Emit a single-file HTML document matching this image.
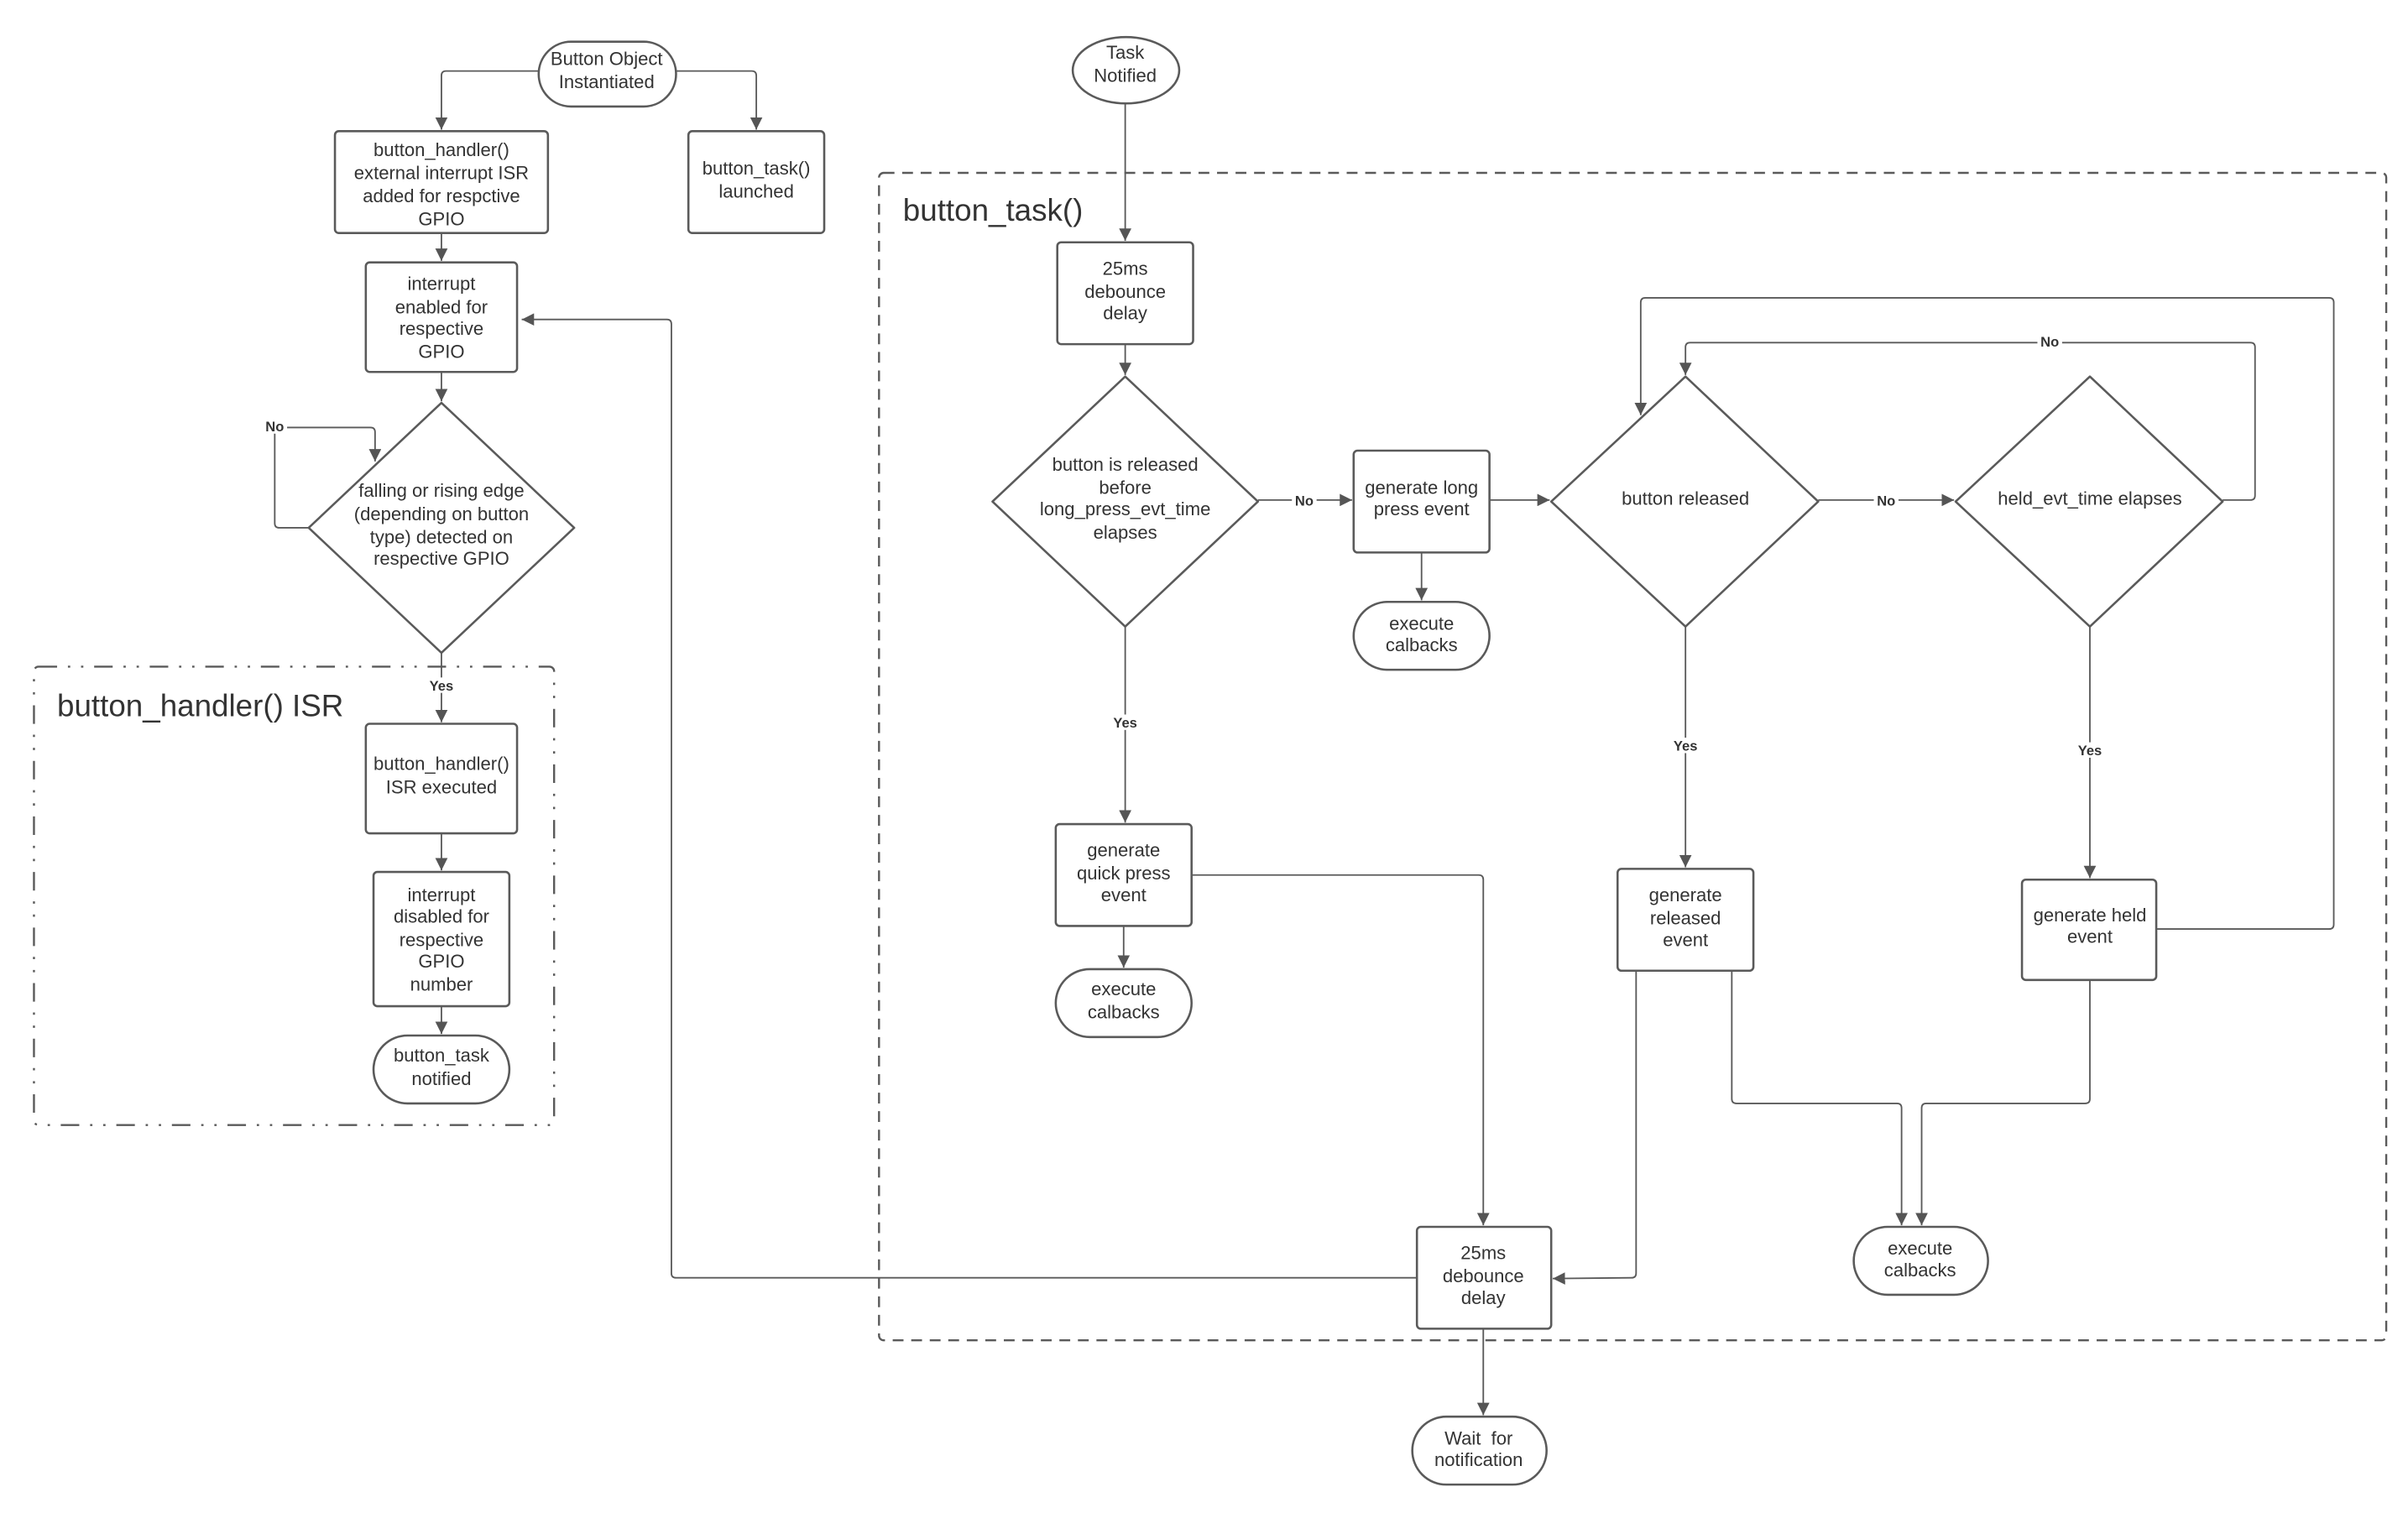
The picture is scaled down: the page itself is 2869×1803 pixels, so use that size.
<!DOCTYPE html>
<html><head><meta charset="utf-8"><style>
html,body{margin:0;padding:0;background:#fff;}
svg{display:block;}
text{font-family:"Liberation Sans",sans-serif;fill:#333;}
</style></head><body>
<svg width="2869" height="1803" viewBox="0 0 1560.1 980.4" xmlns="http://www.w3.org/2000/svg">
<defs>
<marker id="a" viewBox="0 0 10 10" refX="10" refY="5" markerWidth="8" markerHeight="8" markerUnits="userSpaceOnUse" orient="auto">
<path d="M0,0 L10,5 L0,10 z" fill="#555"/></marker>
</defs>
<rect width="1560.1" height="980.4" fill="#fff"/>
<g fill="none" stroke="#5a5a5a" stroke-width="1">
<!-- containers -->
<rect x="569.5" y="112" width="976.5" height="756.5" rx="3" stroke-dasharray="7 5" stroke-width="1.3"/>
<rect x="22" y="432" width="337" height="297" rx="3" stroke-dasharray="12 7 1.5 7 1.5 7" stroke-width="1.3"/>
<!-- connectors -->
<path d="M349,46 H289 Q286,46 286,49 V84" marker-end="url(#a)"/>
<path d="M438,46 H487 Q490,46 490,49 V84" marker-end="url(#a)"/>
<path d="M286,151 V169" marker-end="url(#a)"/>
<path d="M286,241 V260" marker-end="url(#a)"/>
<path d="M200,342 H181 Q178,342 178,339 V280 Q178,277 181,277 H240 Q243,277 243,280 V299" marker-end="url(#a)"/>
<path d="M286,423 V468" marker-end="url(#a)"/>
<path d="M286,540 V564" marker-end="url(#a)"/>
<path d="M286,652 V670" marker-end="url(#a)"/>
<path d="M729,67 V156" marker-end="url(#a)"/>
<path d="M729,223 V243" marker-end="url(#a)"/>
<path d="M815,324 H876" marker-end="url(#a)"/>
<path d="M921,358 V389" marker-end="url(#a)"/>
<path d="M965,324 H1004" marker-end="url(#a)"/>
<path d="M1178,324 H1266" marker-end="url(#a)"/>
<path d="M1440,324 H1458 Q1461,324 1461,321 V225 Q1461,222 1458,222 H1095 Q1092,222 1092,225 V243" marker-end="url(#a)"/>
<path d="M1397,602 H1509 Q1512,602 1512,599 V196 Q1512,193 1509,193 H1066 Q1063,193 1063,196 V269" marker-end="url(#a)"/>
<path d="M729,406 V533" marker-end="url(#a)"/>
<path d="M728,600 V627" marker-end="url(#a)"/>
<path d="M772,567 H958 Q961,567 961,570 V794" marker-end="url(#a)"/>
<path d="M1092,406 V562" marker-end="url(#a)"/>
<path d="M1354,406 V569" marker-end="url(#a)"/>
<path d="M1060,629 V825 Q1060,828 1057,828 L1006,828.5" marker-end="url(#a)"/>
<path d="M1122,629 V712 Q1122,715 1125,715 H1229 Q1232,715 1232,718 V794" marker-end="url(#a)"/>
<path d="M1354,635 V712 Q1354,715 1351,715 H1248 Q1245,715 1245,718 V794" marker-end="url(#a)"/>
<path d="M918,828 H438 Q435,828 435,825 V210 Q435,207 432,207 H338" marker-end="url(#a)"/>
<path d="M961,861 V917" marker-end="url(#a)"/>
</g>
<g fill="#fff" stroke="#5a5a5a" stroke-width="1.4">
<rect x="349" y="27" width="89" height="42" rx="21"/>
<rect x="217" y="85" width="138" height="66" rx="2.5"/>
<rect x="446" y="85" width="88" height="66" rx="2.5"/>
<rect x="237" y="170" width="98" height="71" rx="2.5"/>
<path d="M286,261 L372,342 L286,423 L200,342 Z" stroke-linejoin="round"/>
<rect x="237" y="469" width="98" height="71" rx="2.5"/>
<rect x="242" y="565" width="88" height="87" rx="2.5"/>
<rect x="242" y="671" width="88" height="44" rx="22"/>
<ellipse cx="729.5" cy="45.5" rx="34.5" ry="21.5"/>
<rect x="685" y="157" width="88" height="66" rx="2.5"/>
<path d="M729,244 L815,325 L729,406 L643,325 Z" stroke-linejoin="round"/>
<rect x="877" y="292" width="88" height="66" rx="2.5"/>
<rect x="877" y="390" width="88" height="44" rx="22"/>
<path d="M1092,244 L1178,325 L1092,406 L1005,325 Z" stroke-linejoin="round"/>
<path d="M1354,244 L1440,325 L1354,406 L1267,325 Z" stroke-linejoin="round"/>
<rect x="684" y="534" width="88" height="66" rx="2.5"/>
<rect x="684" y="628" width="88" height="44" rx="22"/>
<rect x="1048" y="563" width="88" height="66" rx="2.5"/>
<rect x="1310" y="570" width="87" height="65" rx="2.5"/>
<rect x="1201" y="795" width="87" height="44" rx="22"/>
<rect x="918" y="795" width="87" height="66" rx="2.5"/>
<rect x="915" y="918" width="87" height="44" rx="22"/>
</g>
<g font-size="12" text-anchor="middle">
<text x="393" y="42">Button Object</text><text x="393" y="57">Instantiated</text>
<text x="286" y="101">button_handler()</text><text x="286" y="116">external interrupt ISR</text><text x="286" y="131">added for respctive</text><text x="286" y="146">GPIO</text>
<text x="490" y="113">button_task()</text><text x="490" y="128">launched</text>
<text x="286" y="188">interrupt</text><text x="286" y="203">enabled for</text><text x="286" y="217">respective</text><text x="286" y="232">GPIO</text>
<text x="286" y="322">falling or rising edge</text><text x="286" y="337">(depending on button</text><text x="286" y="352">type) detected on</text><text x="286" y="366">respective GPIO</text>
<text x="286" y="499">button_handler()</text><text x="286" y="514">ISR executed</text>
<text x="286" y="584">interrupt</text><text x="286" y="598">disabled for</text><text x="286" y="613">respective</text><text x="286" y="627">GPIO</text><text x="286" y="642">number</text>
<text x="286" y="688">button_task</text><text x="286" y="703">notified</text>
<text x="729" y="38">Task</text><text x="729" y="53">Notified</text>
<text x="729" y="178">25ms</text><text x="729" y="193">debounce</text><text x="729" y="207">delay</text>
<text x="729" y="305">button is released</text><text x="729" y="320">before</text><text x="729" y="334">long_press_evt_time</text><text x="729" y="349">elapses</text>
<text x="921" y="320">generate long</text><text x="921" y="334">press event</text>
<text x="921" y="408">execute</text><text x="921" y="422">calbacks</text>
<text x="1092" y="327">button released</text>
<text x="1354" y="327">held_evt_time elapses</text>
<text x="728" y="555">generate</text><text x="728" y="570">quick press</text><text x="728" y="584">event</text>
<text x="728" y="645">execute</text><text x="728" y="660">calbacks</text>
<text x="1092" y="584">generate</text><text x="1092" y="599">released</text><text x="1092" y="613">event</text>
<text x="1354" y="597">generate held</text><text x="1354" y="611">event</text>
<text x="1244" y="813">execute</text><text x="1244" y="827">calbacks</text>
<text x="961" y="816">25ms</text><text x="961" y="831">debounce</text><text x="961" y="845">delay</text>
<text x="958" y="936" xml:space="preserve">Wait  for</text><text x="958" y="950">notification</text>
</g>
<g font-size="9" font-weight="bold" text-anchor="middle">
<rect x="170" y="271" width="16" height="10" fill="#fff"/><text x="178" y="279.5">No</text>
<rect x="276" y="439" width="20" height="10" fill="#fff"/><text x="286" y="447.5">Yes</text>
<rect x="837" y="319" width="16" height="10" fill="#fff"/><text x="845" y="327.5">No</text>
<rect x="719" y="463" width="20" height="10" fill="#fff"/><text x="729" y="471.5">Yes</text>
<rect x="1214" y="319" width="16" height="10" fill="#fff"/><text x="1222" y="327.5">No</text>
<rect x="1320" y="216" width="16" height="10" fill="#fff"/><text x="1328" y="224.5">No</text>
<rect x="1082" y="478" width="20" height="10" fill="#fff"/><text x="1092" y="486.5">Yes</text>
<rect x="1344" y="481" width="20" height="10" fill="#fff"/><text x="1354" y="489.5">Yes</text>
</g>
<g font-size="20">
<text x="585" y="143">button_task()</text>
<text x="37" y="464">button_handler() ISR</text>
</g>
</svg>
</body></html>
